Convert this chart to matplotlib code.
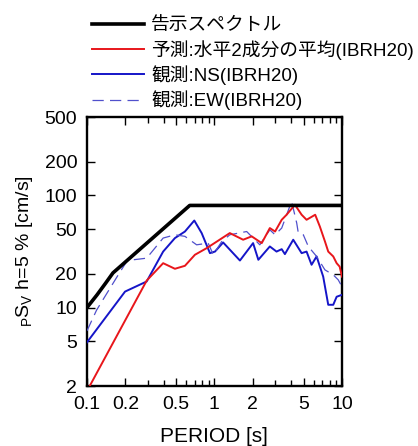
#応答スペクトルの比較 (告示スペクトル / 予測 / 観測)
import matplotlib
matplotlib.use('Agg')
import matplotlib.pyplot as plt
from matplotlib.ticker import FixedLocator, NullLocator, NullFormatter

plt.rcParams['font.family'] = ['Liberation Sans', 'Noto Sans CJK JP', 'DejaVu Sans']
plt.rcParams['mathtext.fontset'] = 'custom'
plt.rcParams['mathtext.rm'] = 'Liberation Sans'
plt.rcParams['mathtext.it'] = 'Liberation Sans'

#告示スペクトル
T_kokuji = [0.1, 0.12, 0.14, 0.16, 0.64, 10]
Sv_kokuji = [10.0, 13.0, 16.5, 20.4, 81.5, 81.5]

#予測:水平2成分の平均
T_red = [0.1, 0.294, 0.396, 0.49, 0.587, 0.703, 0.869, 1.0, 1.32, 1.68, 1.96, 2.35,
         2.72, 2.99, 3.37, 3.68, 4.28, 4.83, 5.28, 6.17, 6.71, 7.36, 7.81, 8.55,
         9.09, 9.6, 10]
Sv_red = [1.8, 17.4, 24.9, 22.2, 23.6, 29.6, 33.9, 37.6, 46.2, 40.3, 43.2, 37.6,
          51.2, 47.7, 60.7, 67.3, 82.6, 67.3, 60.7, 67.3, 52.9, 38.9, 31.6, 28.6,
          24.9, 23.2, 18.9]

#観測:NS
T_ns = [0.1, 0.199, 0.294, 0.396, 0.49, 0.587, 0.695, 0.794, 0.922, 1.01, 1.17,
        1.585, 2.01, 2.21, 2.72, 3.07, 3.37, 3.57, 4.15, 4.83, 5.28, 5.78, 6.33,
        7.13, 7.81, 8.55, 9.09, 10]
Sv_ns = [4.9, 13.9, 17.1, 31.6, 41.7, 47.7, 59.8, 46.2, 30.6, 31.6, 38.1,
         26.3, 37.6, 26.7, 35.1, 31.6, 33.2, 30.0, 40.3, 30.6, 31.6, 24.1, 28.6,
         18.9, 10.6, 10.6, 12.5, 13.0]

#観測:EW
T_ew = [0.1, 0.119, 0.176, 0.205, 0.231, 0.294, 0.396, 0.49, 0.587, 0.725, 0.893,
        0.98, 1.14, 1.32, 1.79, 2.27, 2.72, 2.99, 3.37, 4.03, 4.42, 4.55, 4.98,
        5.45, 6.33, 7.36, 8.55, 9.35, 10]
Sv_ew = [6.2, 9.5, 19.6, 25.8, 26.7, 27.6, 41.7, 44.6, 43.2, 36.3, 37.6,
         29.6, 38.8, 44.6, 47.7, 36.3, 49.4, 44.6, 51.2, 88.5, 56.7, 46.2, 44.6,
         35.1, 28.6, 21.7, 19.6, 17.7, 15.4]

x_ticks = [0.1, 0.2, 0.5, 1, 2, 5, 10]
x_labels = ['0.1', '0.2', '0.5', '1', '2', '5', '10']
y_ticks = [2, 5, 10, 20, 50, 100, 200, 500]
y_labels = ['2', '5', '10', '20', '50', '100', '200', '500']

fig = plt.figure(figsize=(4.18, 4.46), dpi=100)
ax = fig.add_axes([0.208, 0.1345, 0.610, 0.603])

ax.plot(T_kokuji, Sv_kokuji, color='black', lw=2.6, label='告示スペクトル', zorder=5)
ax.plot(T_red, Sv_red, color='#e8161b', lw=1.4, label='予測:水平2成分の平均(IBRH20)', zorder=4)
ax.plot(T_ns, Sv_ns, color='#1515c8', lw=1.4, label='観測:NS(IBRH20)', zorder=3)
ax.plot(T_ew, Sv_ew, color='#5050cc', lw=0.9, dashes=(9, 5), label='観測:EW(IBRH20)', zorder=3)

ax.set_xscale('log')
ax.set_yscale('log')
ax.set_xlim(0.1, 10)
ax.set_ylim(2, 500)

ax.xaxis.set_major_locator(FixedLocator(x_ticks))
ax.set_xticklabels(x_labels)
ax.xaxis.set_minor_locator(FixedLocator([0.3, 0.4, 0.6, 0.7, 0.8, 0.9, 3, 4, 6, 7, 8, 9]))
ax.xaxis.set_minor_formatter(NullFormatter())
ax.yaxis.set_major_locator(FixedLocator(y_ticks))
ax.set_yticklabels(y_labels)
ax.yaxis.set_minor_locator(NullLocator())

ax.tick_params(which='both', direction='in', top=True, right=True, labelsize=14, width=1.0)
ax.tick_params(which='major', length=6, pad=7)
ax.tick_params(which='minor', length=4)
for s in ax.spines.values():
    s.set_linewidth(1.7)

ax.set_xlabel('PERIOD [s]', fontsize=15, labelpad=10)
ax.set_ylabel(r'$_{\mathrm{P}}\mathrm{S}_{\mathrm{V}}$ h=5 % [cm/s]', fontsize=14, labelpad=7)

fig.legend(loc='upper left', bbox_to_anchor=(92 / 418, 1 - 17 / 446), frameon=False,
           fontsize=13.5, handlelength=2.75, handletextpad=0.4, labelspacing=0.3,
           borderpad=0, borderaxespad=0)

fig.savefig('out.png', dpi=100)
